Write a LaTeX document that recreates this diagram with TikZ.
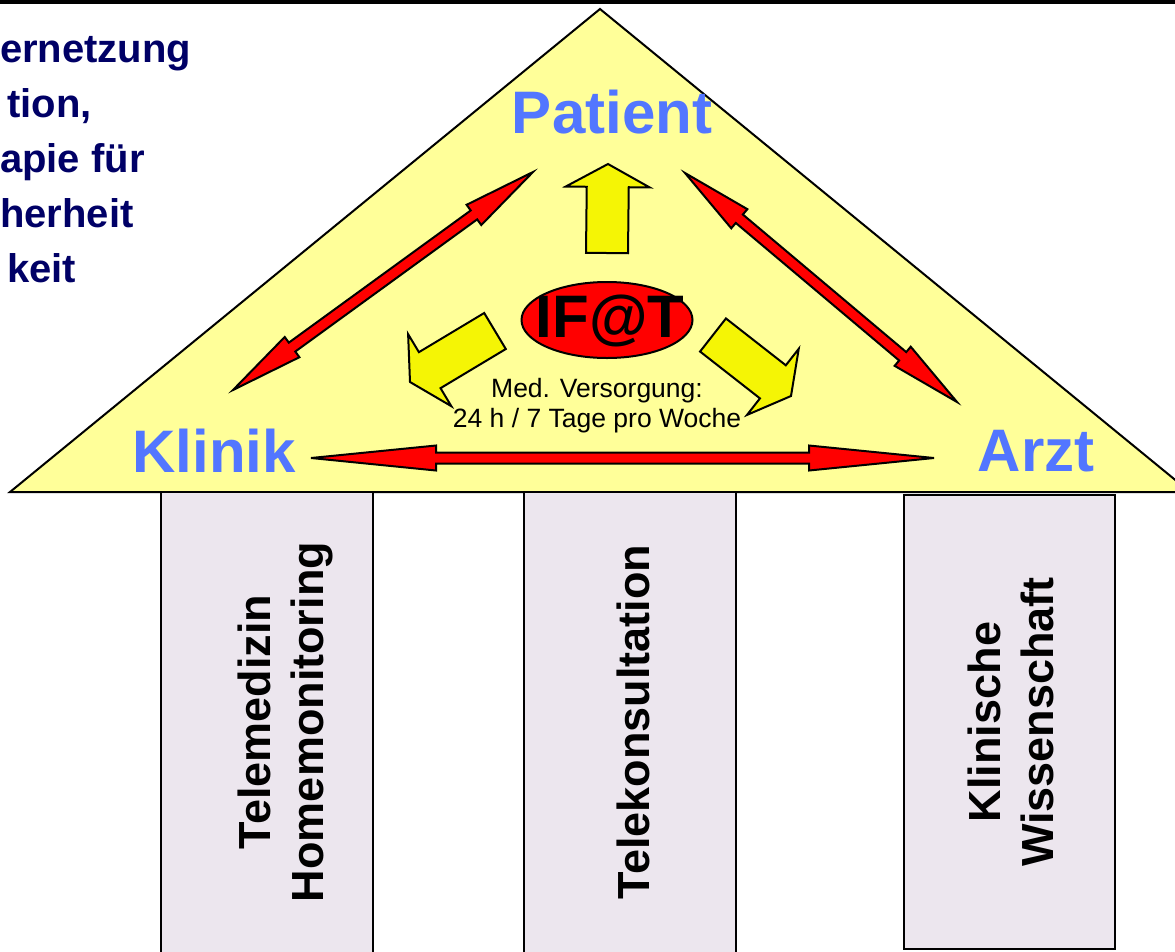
\documentclass[tikz,border=0pt]{standalone}
\usepackage{fontspec}
\setmainfont{Liberation Sans}
\usetikzlibrary{calc,shapes.geometric}
\definecolor{roof}{RGB}{255,255,153}
\definecolor{pillarfill}{RGB}{236,230,238}
\definecolor{arrowyellow}{RGB}{245,245,5}
\definecolor{labelblue}{RGB}{82,118,255}
\definecolor{navy}{RGB}{0,0,102}

\begin{document}
\begin{tikzpicture}[x=1pt,y=-1pt,
  redarr/.style={draw=black,line width=2pt,fill=red},
  yelarr/.style={draw=black,line width=2pt,fill=arrowyellow},
  pillar/.style={draw=black,line width=2pt,fill=pillarfill},
  label/.style={font=\fontsize{60}{72}\selectfont\bfseries,text=labelblue,inner sep=0},
  pillartext/.style={rotate=90,align=center,inner sep=0,
    font=\fontsize{45}{53}\selectfont\bfseries}]

  \newcommand\SW{5.5pt}
  \newcommand\HW{12.5pt}
  \newcommand\BS{21pt}
  \newcommand\BW{42pt}
  \newcommand\BL{23pt}

  %% red double arrow: end, end, head length
  \newcommand\dblarrow[3]{%
    \draw[redarr] (#1)
    -- ($($(#1)!#3!(#2)$)!\HW!90:(#2)$)
    -- ($($(#1)!#3!(#2)$)!\SW!90:(#2)$)
    -- ($($(#2)!#3!(#1)$)!\SW!-90:(#1)$)
    -- ($($(#2)!#3!(#1)$)!\HW!-90:(#1)$)
    -- (#2)
    -- ($($(#2)!#3!(#1)$)!\HW!90:(#1)$)
    -- ($($(#2)!#3!(#1)$)!\SW!90:(#1)$)
    -- ($($(#1)!#3!(#2)$)!\SW!-90:(#2)$)
    -- ($($(#1)!#3!(#2)$)!\HW!-90:(#2)$)
    -- cycle;}

  %% yellow block arrow: tail, tip
  \newcommand\blkarrow[2]{%
    \draw[yelarr] ($(#1)!\BS!90:(#2)$)
    -- ($($(#2)!\BL!(#1)$)!\BS!-90:(#1)$)
    -- ($($(#2)!\BL!(#1)$)!\BW!-90:(#1)$)
    -- (#2)
    -- ($($(#2)!\BL!(#1)$)!\BW!90:(#1)$)
    -- ($($(#2)!\BL!(#1)$)!\BS!90:(#1)$)
    -- ($(#1)!\BS!-90:(#2)$)
    -- cycle;}

  \useasboundingbox (0,0) rectangle (1175,951);
  \clip (0,0) rectangle (1175,951);

  \fill (0,0) rectangle (1175,3.5); %% top rule

  %% roof
  \draw[fill=roof,line width=2pt,line join=miter] (10,492) -- (600,9) -- (1190,492) -- cycle;

  %% pillars
  \draw[pillar] (161,492) rectangle (373,965);
  \draw[pillar] (524,492) rectangle (736,965);
  \draw[pillar] (904,495) rectangle (1115,949);

  \node[pillartext] (tele) at (285,722) {Telemedizin\\Homemonitoring};
  \node[pillartext] (konsult) at (633,722) {Telekonsultation};
  \node[pillartext] (wiss) at (1011,722) {Klinische\\Wissenschaft};

  %% red arrows
  \coordinate (kp) at (233,390);
  \coordinate (pk) at (533,172);
  \coordinate (pa) at (685,173);
  \coordinate (ap) at (957,402);
  \coordinate (ka) at (311,458);
  \coordinate (ak) at (934,458);
  \dblarrow{kp}{pk}{73pt}
  \dblarrow{pa}{ap}{71pt}
  \dblarrow{ka}{ak}{125pt}

  %% yellow arrows
  \coordinate (upT) at (607,253);
  \coordinate (upH) at (608,164);
  \coordinate (leftT) at (495,331);
  \coordinate (leftH) at (410,382);
  \coordinate (rightT) at (713,335);
  \coordinate (rightH) at (791,396);
  \blkarrow{upT}{upH}
  \blkarrow{leftT}{leftH}
  \blkarrow{rightT}{rightH}

  %% centre
  \node[ellipse,draw,fill=red,line width=2pt,minimum width=171pt,
    minimum height=76pt,inner sep=0] (ifat) at (607,320) {};
  \node[anchor=base,inner sep=0,font=\fontsize{60}{72}\selectfont\bfseries]
    (ifattext) at (610,337) {IF@T};
  \node[anchor=base,inner sep=0,align=center,font=\fontsize{26.5}{30}\selectfont]
    (medv) at (597,427) {Med. Versorgung:\\24 h / 7 Tage pro Woche};

  \node[label,anchor=base] (patient) at (612,133) {Patient};
  \node[label,anchor=base] (klinik) at (214,472) {Klinik};
  \node[label,anchor=base] (arzt) at (1036,471) {Arzt};

  %% cut text top left
  \node[anchor=base west,align=left,inner sep=0,text=navy,
    font=\fontsize{40}{55}\selectfont\bfseries] (vernetz) at (0,282)
    {ernetzung\\\hspace*{7pt}tion,\\apie für\\herheit\\\hspace*{7pt}keit};

\end{tikzpicture}
\end{document}
